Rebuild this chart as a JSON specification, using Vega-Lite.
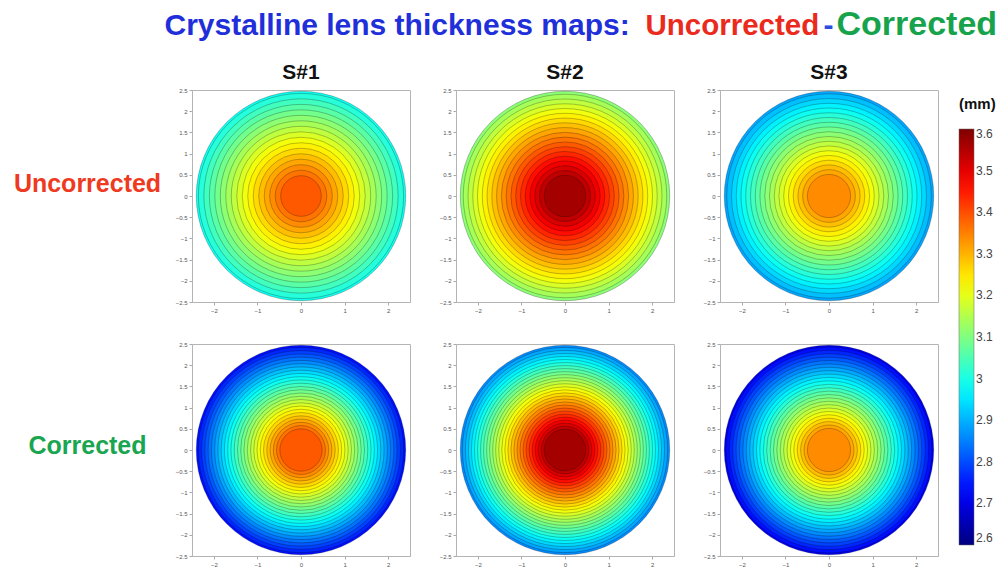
{
  "$schema": "https://vega.github.io/schema/vega-lite/v6.json",
  "padding": {"left": 12, "top": 6, "right": 2, "bottom": 0},
  "background": "white",
  "datasets": {
    "rings": [
      {"p": "U1", "r": 2.47, "t": 2.99}, {"p": "U1", "r": 2.42, "t": 3.0125}, {"p": "U1", "r": 2.291, "t": 3.0375}, {"p": "U1", "r": 2.161, "t": 3.0625}, {"p": "U1", "r": 2.032, "t": 3.0875}, {"p": "U1", "r": 1.903, "t": 3.1125}, {"p": "U1", "r": 1.773, "t": 3.1375}, {"p": "U1", "r": 1.644, "t": 3.1625}, {"p": "U1", "r": 1.515, "t": 3.1875}, {"p": "U1", "r": 1.385, "t": 3.2125}, {"p": "U1", "r": 1.256, "t": 3.2375}, {"p": "U1", "r": 1.127, "t": 3.2625}, {"p": "U1", "r": 0.997, "t": 3.2875}, {"p": "U1", "r": 0.868, "t": 3.3125}, {"p": "U1", "r": 0.739, "t": 3.3375}, {"p": "U1", "r": 0.609, "t": 3.3625}, {"p": "U1", "r": 0.48, "t": 3.3875},
      {"p": "U2", "r": 2.47, "t": 3.1125}, {"p": "U2", "r": 2.4, "t": 3.1375}, {"p": "U2", "r": 2.288, "t": 3.1625}, {"p": "U2", "r": 2.175, "t": 3.1875}, {"p": "U2", "r": 2.063, "t": 3.2125}, {"p": "U2", "r": 1.951, "t": 3.2375}, {"p": "U2", "r": 1.838, "t": 3.2625}, {"p": "U2", "r": 1.726, "t": 3.2875}, {"p": "U2", "r": 1.614, "t": 3.3125}, {"p": "U2", "r": 1.501, "t": 3.3375}, {"p": "U2", "r": 1.389, "t": 3.3625}, {"p": "U2", "r": 1.276, "t": 3.3875}, {"p": "U2", "r": 1.164, "t": 3.4125}, {"p": "U2", "r": 1.052, "t": 3.4375}, {"p": "U2", "r": 0.939, "t": 3.4625}, {"p": "U2", "r": 0.827, "t": 3.4875}, {"p": "U2", "r": 0.715, "t": 3.5125}, {"p": "U2", "r": 0.602, "t": 3.5375}, {"p": "U2", "r": 0.49, "t": 3.5625},
      {"p": "U3", "r": 2.47, "t": 2.8875}, {"p": "U3", "r": 2.41, "t": 2.9125}, {"p": "U3", "r": 2.298, "t": 2.9375}, {"p": "U3", "r": 2.186, "t": 2.9625}, {"p": "U3", "r": 2.075, "t": 2.9875}, {"p": "U3", "r": 1.963, "t": 3.0125}, {"p": "U3", "r": 1.851, "t": 3.0375}, {"p": "U3", "r": 1.739, "t": 3.0625}, {"p": "U3", "r": 1.628, "t": 3.0875}, {"p": "U3", "r": 1.516, "t": 3.1125}, {"p": "U3", "r": 1.404, "t": 3.1375}, {"p": "U3", "r": 1.292, "t": 3.1625}, {"p": "U3", "r": 1.181, "t": 3.1875}, {"p": "U3", "r": 1.069, "t": 3.2125}, {"p": "U3", "r": 0.957, "t": 3.2375}, {"p": "U3", "r": 0.845, "t": 3.2625}, {"p": "U3", "r": 0.734, "t": 3.2875}, {"p": "U3", "r": 0.622, "t": 3.3125}, {"p": "U3", "r": 0.51, "t": 3.3375},
      {"p": "C1", "r": 2.47, "t": 2.74}, {"p": "C1", "r": 2.42, "t": 2.7625}, {"p": "C1", "r": 2.343, "t": 2.7875}, {"p": "C1", "r": 2.266, "t": 2.8125}, {"p": "C1", "r": 2.19, "t": 2.8375}, {"p": "C1", "r": 2.113, "t": 2.8625}, {"p": "C1", "r": 2.036, "t": 2.8875}, {"p": "C1", "r": 1.959, "t": 2.9125}, {"p": "C1", "r": 1.882, "t": 2.9375}, {"p": "C1", "r": 1.806, "t": 2.9625}, {"p": "C1", "r": 1.729, "t": 2.9875}, {"p": "C1", "r": 1.652, "t": 3.0125}, {"p": "C1", "r": 1.575, "t": 3.0375}, {"p": "C1", "r": 1.498, "t": 3.0625}, {"p": "C1", "r": 1.422, "t": 3.0875}, {"p": "C1", "r": 1.345, "t": 3.1125}, {"p": "C1", "r": 1.268, "t": 3.1375}, {"p": "C1", "r": 1.191, "t": 3.1625}, {"p": "C1", "r": 1.114, "t": 3.1875}, {"p": "C1", "r": 1.038, "t": 3.2125}, {"p": "C1", "r": 0.961, "t": 3.2375}, {"p": "C1", "r": 0.884, "t": 3.2625}, {"p": "C1", "r": 0.807, "t": 3.2875}, {"p": "C1", "r": 0.73, "t": 3.3125}, {"p": "C1", "r": 0.654, "t": 3.3375}, {"p": "C1", "r": 0.577, "t": 3.3625}, {"p": "C1", "r": 0.5, "t": 3.3875},
      {"p": "C2", "r": 2.47, "t": 2.8625}, {"p": "C2", "r": 2.42, "t": 2.8875}, {"p": "C2", "r": 2.349, "t": 2.9125}, {"p": "C2", "r": 2.277, "t": 2.9375}, {"p": "C2", "r": 2.206, "t": 2.9625}, {"p": "C2", "r": 2.134, "t": 2.9875}, {"p": "C2", "r": 2.063, "t": 3.0125}, {"p": "C2", "r": 1.991, "t": 3.0375}, {"p": "C2", "r": 1.92, "t": 3.0625}, {"p": "C2", "r": 1.848, "t": 3.0875}, {"p": "C2", "r": 1.777, "t": 3.1125}, {"p": "C2", "r": 1.705, "t": 3.1375}, {"p": "C2", "r": 1.634, "t": 3.1625}, {"p": "C2", "r": 1.562, "t": 3.1875}, {"p": "C2", "r": 1.491, "t": 3.2125}, {"p": "C2", "r": 1.419, "t": 3.2375}, {"p": "C2", "r": 1.348, "t": 3.2625}, {"p": "C2", "r": 1.276, "t": 3.2875}, {"p": "C2", "r": 1.205, "t": 3.3125}, {"p": "C2", "r": 1.133, "t": 3.3375}, {"p": "C2", "r": 1.062, "t": 3.3625}, {"p": "C2", "r": 0.99, "t": 3.3875}, {"p": "C2", "r": 0.919, "t": 3.4125}, {"p": "C2", "r": 0.847, "t": 3.4375}, {"p": "C2", "r": 0.776, "t": 3.4625}, {"p": "C2", "r": 0.704, "t": 3.4875}, {"p": "C2", "r": 0.633, "t": 3.5125}, {"p": "C2", "r": 0.561, "t": 3.5375}, {"p": "C2", "r": 0.49, "t": 3.5625},
      {"p": "C3", "r": 2.47, "t": 2.7125}, {"p": "C3", "r": 2.43, "t": 2.7375}, {"p": "C3", "r": 2.35, "t": 2.7625}, {"p": "C3", "r": 2.27, "t": 2.7875}, {"p": "C3", "r": 2.19, "t": 2.8125}, {"p": "C3", "r": 2.11, "t": 2.8375}, {"p": "C3", "r": 2.03, "t": 2.8625}, {"p": "C3", "r": 1.95, "t": 2.8875}, {"p": "C3", "r": 1.87, "t": 2.9125}, {"p": "C3", "r": 1.79, "t": 2.9375}, {"p": "C3", "r": 1.71, "t": 2.9625}, {"p": "C3", "r": 1.63, "t": 2.9875}, {"p": "C3", "r": 1.55, "t": 3.0125}, {"p": "C3", "r": 1.47, "t": 3.0375}, {"p": "C3", "r": 1.39, "t": 3.0625}, {"p": "C3", "r": 1.31, "t": 3.0875}, {"p": "C3", "r": 1.23, "t": 3.1125}, {"p": "C3", "r": 1.15, "t": 3.1375}, {"p": "C3", "r": 1.07, "t": 3.1625}, {"p": "C3", "r": 0.99, "t": 3.1875}, {"p": "C3", "r": 0.91, "t": 3.2125}, {"p": "C3", "r": 0.83, "t": 3.2375}, {"p": "C3", "r": 0.75, "t": 3.2625}, {"p": "C3", "r": 0.67, "t": 3.2875}, {"p": "C3", "r": 0.59, "t": 3.3125}, {"p": "C3", "r": 0.51, "t": 3.3375}
    ]
  },
  "bounds": "flush",
  "columns": 3,
  "spacing": {"row": 42, "column": 46},
  "concat": [
    {
      "width": 218, "height": 212,
      "title": {"text": "S#1"},
      "data": {"name": "rings"},
      "transform": [{"filter": "datum.p === 'U1'"}],
      "layer": [
        {"mark": {"type": "point", "opacity": 0},
         "encoding": {
           "x": {"datum": 0, "type": "quantitative", "scale": {"domain": [-2.5, 2.5], "nice": false, "zero": false}, "axis": {"values": [-2, -1, 0, 1, 2], "format": "~g", "title": null}},
           "y": {"datum": 0, "type": "quantitative", "scale": {"domain": [-2.5, 2.5], "nice": false, "zero": false}, "axis": {"values": [-2.5, -2, -1.5, -1, -0.5, 0, 0.5, 1, 1.5, 2, 2.5], "format": "~g",
             "title": "Uncorrected", "titleColor": "#ee3a1f", "titleFontSize": 25, "titleFontWeight": "bold", "titleFont": "Liberation Sans", "titleAngle": 0, "titleX": -105, "titleY": 101, "titleAlign": "center", "titleBaseline": "alphabetic"}}
         }},
        {"mark": {"type": "arc", "theta": 0, "theta2": 6.2832, "stroke": "#000000", "strokeOpacity": 0.42, "strokeWidth": 0.6},
         "encoding": {
           "radius": {"field": "r", "type": "quantitative", "stack": null, "scale": {"type": "linear", "domain": [0, 2.5], "range": [0, 106]}},
           "color": {"field": "t", "type": "quantitative", "title": "(mm)", "legend": {"format": "~g", "values": [2.6, 2.7, 2.8, 2.9, 3, 3.1, 3.2, 3.3, 3.4, 3.5, 3.6]}, "scale": {"domain": [2.6, 2.725, 2.975, 3.225, 3.475, 3.6], "range": ["#00007f", "#0000ff", "#00ffff", "#ffff00", "#ff0000", "#7f0000"], "interpolate": "rgb"}}
         }}
      ]
    },
    {
      "width": 218, "height": 212,
      "title": {"text": "S#2"},
      "data": {"name": "rings"},
      "transform": [{"filter": "datum.p === 'U2'"}],
      "layer": [
        {"mark": {"type": "point", "opacity": 0},
         "encoding": {
           "x": {"datum": 0, "type": "quantitative", "scale": {"domain": [-2.5, 2.5], "nice": false, "zero": false}, "axis": {"values": [-2, -1, 0, 1, 2], "format": "~g", "title": null}},
           "y": {"datum": 0, "type": "quantitative", "scale": {"domain": [-2.5, 2.5], "nice": false, "zero": false}, "axis": {"values": [-2.5, -2, -1.5, -1, -0.5, 0, 0.5, 1, 1.5, 2, 2.5], "format": "~g", "title": null}}
         }},
        {"mark": {"type": "arc", "theta": 0, "theta2": 6.2832, "stroke": "#000000", "strokeOpacity": 0.42, "strokeWidth": 0.6},
         "encoding": {
           "radius": {"field": "r", "type": "quantitative", "stack": null, "scale": {"type": "linear", "domain": [0, 2.5], "range": [0, 106]}},
           "color": {"field": "t", "type": "quantitative", "title": "(mm)", "legend": {"format": "~g", "values": [2.6, 2.7, 2.8, 2.9, 3, 3.1, 3.2, 3.3, 3.4, 3.5, 3.6]}, "scale": {"domain": [2.6, 2.725, 2.975, 3.225, 3.475, 3.6], "range": ["#00007f", "#0000ff", "#00ffff", "#ffff00", "#ff0000", "#7f0000"], "interpolate": "rgb"}}
         }}
      ]
    },
    {
      "width": 218, "height": 212,
      "title": {"text": "S#3"},
      "data": {"name": "rings"},
      "transform": [{"filter": "datum.p === 'U3'"}],
      "layer": [
        {"mark": {"type": "point", "opacity": 0},
         "encoding": {
           "x": {"datum": 0, "type": "quantitative", "scale": {"domain": [-2.5, 2.5], "nice": false, "zero": false}, "axis": {"values": [-2, -1, 0, 1, 2], "format": "~g", "title": null}},
           "y": {"datum": 0, "type": "quantitative", "scale": {"domain": [-2.5, 2.5], "nice": false, "zero": false}, "axis": {"values": [-2.5, -2, -1.5, -1, -0.5, 0, 0.5, 1, 1.5, 2, 2.5], "format": "~g", "title": null}}
         }},
        {"mark": {"type": "arc", "theta": 0, "theta2": 6.2832, "stroke": "#000000", "strokeOpacity": 0.42, "strokeWidth": 0.6},
         "encoding": {
           "radius": {"field": "r", "type": "quantitative", "stack": null, "scale": {"type": "linear", "domain": [0, 2.5], "range": [0, 106]}},
           "color": {"field": "t", "type": "quantitative", "title": "(mm)", "legend": {"format": "~g", "values": [2.6, 2.7, 2.8, 2.9, 3, 3.1, 3.2, 3.3, 3.4, 3.5, 3.6]}, "scale": {"domain": [2.6, 2.725, 2.975, 3.225, 3.475, 3.6], "range": ["#00007f", "#0000ff", "#00ffff", "#ffff00", "#ff0000", "#7f0000"], "interpolate": "rgb"}}
         }}
      ]
    },
    {
      "width": 218, "height": 212,
      "data": {"name": "rings"},
      "transform": [{"filter": "datum.p === 'C1'"}],
      "layer": [
        {"mark": {"type": "point", "opacity": 0},
         "encoding": {
           "x": {"datum": 0, "type": "quantitative", "scale": {"domain": [-2.5, 2.5], "nice": false, "zero": false}, "axis": {"values": [-2, -1, 0, 1, 2], "format": "~g",
             "title": "Crystalline lens thickness maps:", "titleColor": "#1f2fd9", "titleFontSize": 30, "titleFontWeight": "bold", "titleFont": "Liberation Sans", "titleX": -28, "titleY": -522, "titleAlign": "left", "titleBaseline": "alphabetic"}},
           "y": {"datum": 0, "type": "quantitative", "scale": {"domain": [-2.5, 2.5], "nice": false, "zero": false}, "axis": {"values": [-2.5, -2, -1.5, -1, -0.5, 0, 0.5, 1, 1.5, 2, 2.5], "format": "~g",
             "title": "Corrected", "titleColor": "#1aa551", "titleFontSize": 25, "titleFontWeight": "bold", "titleFont": "Liberation Sans", "titleAngle": 0, "titleX": -105, "titleY": 109, "titleAlign": "center", "titleBaseline": "alphabetic"}}
         }},
        {"mark": {"type": "arc", "theta": 0, "theta2": 6.2832, "stroke": "#000000", "strokeOpacity": 0.42, "strokeWidth": 0.6},
         "encoding": {
           "radius": {"field": "r", "type": "quantitative", "stack": null, "scale": {"type": "linear", "domain": [0, 2.5], "range": [0, 106]}},
           "color": {"field": "t", "type": "quantitative", "title": "(mm)", "legend": {"format": "~g", "values": [2.6, 2.7, 2.8, 2.9, 3, 3.1, 3.2, 3.3, 3.4, 3.5, 3.6]}, "scale": {"domain": [2.6, 2.725, 2.975, 3.225, 3.475, 3.6], "range": ["#00007f", "#0000ff", "#00ffff", "#ffff00", "#ff0000", "#7f0000"], "interpolate": "rgb"}}
         }}
      ]
    },
    {
      "width": 218, "height": 212,
      "data": {"name": "rings"},
      "transform": [{"filter": "datum.p === 'C2'"}],
      "layer": [
        {"mark": {"type": "point", "opacity": 0},
         "encoding": {
           "x": {"datum": 0, "type": "quantitative", "scale": {"domain": [-2.5, 2.5], "nice": false, "zero": false}, "axis": {"values": [-2, -1, 0, 1, 2], "format": "~g",
             "title": "Uncorrected", "titleColor": "#eb2a1e", "titleFontSize": 29.5, "titleFontWeight": "bold", "titleFont": "Liberation Sans", "titleX": 189, "titleY": -522, "titleAlign": "left", "titleBaseline": "alphabetic"}},
           "y": {"datum": 0, "type": "quantitative", "scale": {"domain": [-2.5, 2.5], "nice": false, "zero": false}, "axis": {"values": [-2.5, -2, -1.5, -1, -0.5, 0, 0.5, 1, 1.5, 2, 2.5], "format": "~g", "title": null}}
         }},
        {"mark": {"type": "arc", "theta": 0, "theta2": 6.2832, "stroke": "#000000", "strokeOpacity": 0.42, "strokeWidth": 0.6},
         "encoding": {
           "radius": {"field": "r", "type": "quantitative", "stack": null, "scale": {"type": "linear", "domain": [0, 2.5], "range": [0, 106]}},
           "color": {"field": "t", "type": "quantitative", "title": "(mm)", "legend": {"format": "~g", "values": [2.6, 2.7, 2.8, 2.9, 3, 3.1, 3.2, 3.3, 3.4, 3.5, 3.6]}, "scale": {"domain": [2.6, 2.725, 2.975, 3.225, 3.475, 3.6], "range": ["#00007f", "#0000ff", "#00ffff", "#ffff00", "#ff0000", "#7f0000"], "interpolate": "rgb"}}
         }}
      ]
    },
    {
      "width": 218, "height": 212,
      "data": {"name": "rings"},
      "transform": [{"filter": "datum.p === 'C3'"}],
      "layer": [
        {"mark": {"type": "point", "opacity": 0},
         "encoding": {
           "x": {"datum": 0, "type": "quantitative", "scale": {"domain": [-2.5, 2.5], "nice": false, "zero": false}, "axis": {"values": [-2, -1, 0, 1, 2], "format": "~g",
             "title": "Corrected", "titleColor": "#16a34b", "titleFontSize": 34, "titleFontWeight": "bold", "titleFont": "Liberation Sans", "titleX": 116, "titleY": -522, "titleAlign": "left", "titleBaseline": "alphabetic"}},
           "y": {"datum": 0, "type": "quantitative", "scale": {"domain": [-2.5, 2.5], "nice": false, "zero": false}, "axis": {"values": [-2.5, -2, -1.5, -1, -0.5, 0, 0.5, 1, 1.5, 2, 2.5], "format": "~g",
             "title": "-", "titleColor": "#2a4fe0", "titleFontSize": 30, "titleFontWeight": "bold", "titleFont": "Liberation Sans", "titleAngle": 0, "titleX": 103, "titleY": -310, "titleAlign": "left", "titleBaseline": "alphabetic"}}
         }},
        {"mark": {"type": "arc", "theta": 0, "theta2": 6.2832, "stroke": "#000000", "strokeOpacity": 0.42, "strokeWidth": 0.6},
         "encoding": {
           "radius": {"field": "r", "type": "quantitative", "stack": null, "scale": {"type": "linear", "domain": [0, 2.5], "range": [0, 106]}},
           "color": {"field": "t", "type": "quantitative", "title": "(mm)", "legend": {"format": "~g", "values": [2.6, 2.7, 2.8, 2.9, 3, 3.1, 3.2, 3.3, 3.4, 3.5, 3.6]}, "scale": {"domain": [2.6, 2.725, 2.975, 3.225, 3.475, 3.6], "range": ["#00007f", "#0000ff", "#00ffff", "#ffff00", "#ff0000", "#7f0000"], "interpolate": "rgb"}}
         }}
      ]
    }
  ],
  "config": {
    "view": {"stroke": "#b4b4b4"},
    "axis": {"labelFontSize": 6, "labelColor": "#555555", "labelFont": "Liberation Sans", "tickSize": 3, "tickColor": "#aaaaaa", "domainColor": "#b4b4b4", "grid": false, "labelPadding": 2},
    "title": {"fontSize": 21, "fontWeight": "bold", "font": "Liberation Sans", "color": "#111111", "offset": 4, "anchor": "middle"},
    "legend": {
      "orient": "none", "legendX": 767, "legendY": 7,
      "gradientLength": 416, "gradientThickness": 15, "gradientStrokeColor": "#666666", "gradientStrokeWidth": 0.5,
      "titleFontSize": 15, "titleFontWeight": "bold", "titleFont": "Liberation Sans", "titleColor": "#111111", "titlePadding": 17, "titleAnchor": "start",
      "labelFontSize": 12, "labelFont": "Liberation Sans", "labelColor": "#444444", "labelOverlap": false, "labelOffset": 2,
      "direction": "vertical"
    }
  }
}
